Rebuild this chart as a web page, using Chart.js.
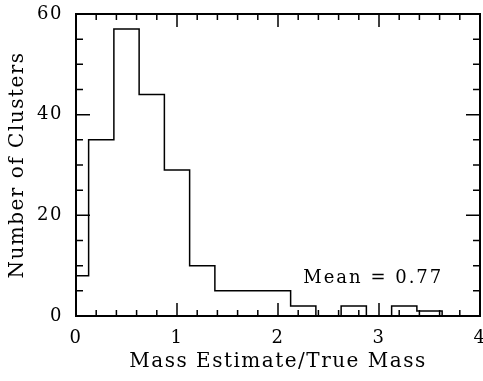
<!DOCTYPE html>
<html>
<head>
<meta charset="utf-8">
<script src="https://cdn.jsdelivr.net/npm/chart.js@4"></script>
<style>
  html, body { margin: 0; padding: 0; background: #fff; }
  #grafica { display: block; }
</style>
</head>
<body>
<canvas id="grafica" width="483" height="381"></canvas>
<script>
// datos del histograma (centros de bin, anchura 0.25)
const centros = [0, 0.25, 0.5, 0.75, 1, 1.25, 1.5, 1.75, 2, 2.25, 2.5, 2.75, 3, 3.25, 3.5];
const cuentas = [8, 35, 57, 44, 29, 10, 5, 5, 5, 2, 0, 2, 0, 2, 1];
const anchoBin = 0.25;
const xTicks = [0, 1, 2, 3, 4];
const yTicks = [0, 20, 40, 60];
const textoMedia = 'Mean = 0.77';

const fuenteTicks = { family: 'DejaVu Serif', size: 18 };
const fuenteTitulo = { family: 'DejaVu Serif', size: 20 };

// puntos para la linea escalonada
let puntos = [];
centros.forEach((c, i) => {
  puntos.push({ x: c - anchoBin / 2, y: cuentas[i] });
});
let ultimo = centros[centros.length - 1] + anchoBin / 2;
puntos.push({ x: ultimo, y: cuentas[cuentas.length - 1] });
puntos.push({ x: ultimo, y: 0 });

// marco, ticks hacia dentro y etiqueta de la media
const marco = {
  id: 'marco',
  beforeDraw(chart) {
    chart.ctx.letterSpacing = '1.5px';
  },
  afterDraw(chart) {
    const ctx = chart.ctx;
    const a = chart.chartArea;
    const sx = chart.scales.x;
    const sy = chart.scales.y;
    ctx.save();
    ctx.strokeStyle = '#000';
    ctx.lineWidth = 2;
    ctx.strokeRect(a.left, a.top, a.right - a.left, a.bottom - a.top);

    ctx.lineWidth = 1.5;
    ctx.beginPath();
    for (let i = 0; i <= 20; i++) {
      let v = i * 0.2;
      let px = sx.getPixelForValue(v);
      let largo = i % 5 === 0 ? 13 : 6;
      ctx.moveTo(px, a.bottom); ctx.lineTo(px, a.bottom - largo);
      ctx.moveTo(px, a.top); ctx.lineTo(px, a.top + largo);
    }
    for (let i = 0; i <= 12; i++) {
      let v = i * 5;
      let py = sy.getPixelForValue(v);
      let largo = i % 4 === 0 ? 14 : 7;
      ctx.moveTo(a.left, py); ctx.lineTo(a.left + largo, py);
      ctx.moveTo(a.right, py); ctx.lineTo(a.right - largo, py);
    }
    ctx.stroke();

    ctx.fillStyle = '#000';
    ctx.font = fuenteTicks.size + 'px ' + fuenteTicks.family;
    ctx.letterSpacing = '2px';
    ctx.textAlign = 'left';
    ctx.textBaseline = 'alphabetic';
    ctx.fillText(textoMedia, sx.getPixelForValue(2.25), sy.getPixelForValue(6.6));
    ctx.restore();
  }
};

const config = {
  type: 'line',
  data: {
    datasets: [{
      data: puntos,
      stepped: true,
      borderColor: '#000',
      borderWidth: 1.5,
      pointRadius: 0,
      fill: false
    }]
  },
  options: {
    responsive: false,
    animation: false,
    layout: { padding: { top: 14, right: 3, left: 0, bottom: 0 } },
    plugins: { legend: { display: false }, tooltip: { enabled: false } },
    scales: {
      x: {
        type: 'linear',
        min: 0,
        max: 4,
        grid: { display: false, drawTicks: false },
        border: { display: false },
        afterBuildTicks: (s) => { s.ticks = xTicks.map((v) => ({ value: v })); },
        afterFit: (s) => { s.height = 65; s.paddingLeft = 0; s.paddingRight = 0; },
        ticks: { color: '#000', font: fuenteTicks, padding: 12, maxRotation: 0 },
        title: { display: true, text: 'Mass Estimate/True Mass', color: '#000', font: fuenteTitulo, padding: { top: 0, bottom: 7 } }
      },
      y: {
        min: 0,
        max: 60,
        grid: { display: false, drawTicks: false },
        border: { display: false },
        afterBuildTicks: (s) => { s.ticks = yTicks.map((v) => ({ value: v })); },
        afterFit: (s) => { s.width = 76; s.paddingTop = 0; s.paddingBottom = 0; },
        ticks: { color: '#000', font: fuenteTicks, padding: 13 },
        title: { display: true, text: 'Number of Clusters', color: '#000', font: fuenteTitulo, padding: { top: 6, bottom: 0 } }
      }
    }
  },
  plugins: [marco]
};

let grafica = new Chart(document.querySelector('#grafica'), config);
</script>
</body>
</html>
